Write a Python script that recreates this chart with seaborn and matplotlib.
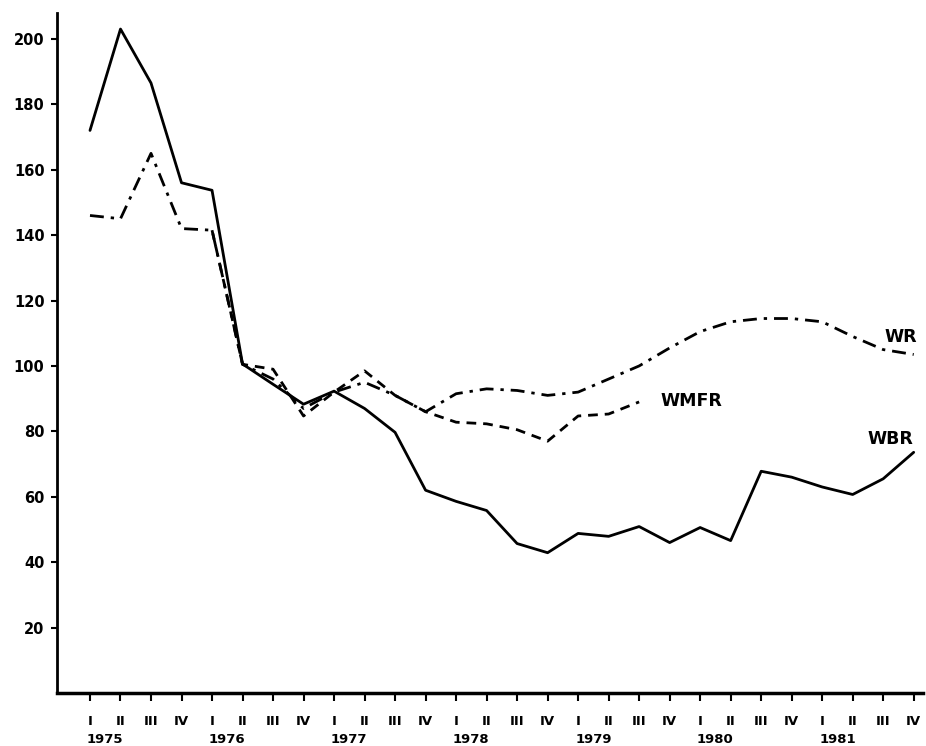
import numpy as np
import pandas as pd
import matplotlib
matplotlib.use("Agg")
import matplotlib.pyplot as plt
import seaborn as sns

# Quarterly index values, 1975 I - 1981 IV
years = ["1975", "1976", "1977", "1978", "1979", "1980", "1981"]
quarters = ["I", "II", "III", "IV"]

wr = [146, 145, 165, 142,
      141.5, 100.5, 96, 87,
      92, 95, 91, 86,
      91.5, 93, 92.5, 91,
      92, 96, 100, 105.5,
      110.5, 113.5, 114.5, 114.5,
      113.5, 109, 105, 103.5]

wmfr = [np.nan, np.nan, np.nan, np.nan,
        141.5, 100.5, 99, 84.7,
        92, 98.5, 91, 86,
        82.8, 82.3, 80.5, 77,
        84.7, 85.3, 89, np.nan,
        np.nan, np.nan, np.nan, np.nan,
        np.nan, np.nan, np.nan, np.nan]

wbr = [172, 203, 186.5, 156,
       153.7, 100.6, 94.4, 88.3,
       92.3, 87, 79.7, 62,
       58.6, 55.8, 45.7, 42.9,
       48.8, 47.9, 50.9, 46,
       50.6, 46.6, 67.8, 66,
       63, 60.7, 65.5, 73.6]

series_names = ["WR", "WMFR", "WBR"]
y_ticks = [20, 40, 60, 80, 100, 120, 140, 160, 180, 200]

n = len(years) * len(quarters)
t = np.arange(n)
df = pd.concat([
    pd.DataFrame({"t": t, "value": vals, "series": name})
    for name, vals in zip(series_names, [wr, wmfr, wbr])
]).dropna()

sns.set_style("ticks")
plt.rcParams["font.family"] = ["DejaVu Sans"]
plt.rcParams["font.weight"] = "bold"
plt.rcParams["text.color"] = "black"

fig = plt.figure(figsize=(9.26, 7.46), dpi=100)
ax = fig.add_axes([0.0616, 0.071, 0.935, 0.912])

sns.lineplot(
    data=df, x="t", y="value", style="series", ax=ax,
    color="black", linewidth=2.0, legend=False,
    style_order=series_names,
    dashes={"WR": (5, 2.5, 1.2, 2.5), "WMFR": (3.5, 2.5), "WBR": ""},
)

ax.set_xlim(-1.08, 27.3)
ax.set_ylim(0, 208)
ax.set_xlabel("")
ax.set_ylabel("")

ax.set_yticks(y_ticks)
ax.set_yticklabels([str(v) for v in y_ticks], fontsize=10.5, fontweight="bold")

ax.set_xticks(t)
ax.set_xticklabels(quarters * len(years), fontsize=9.5, fontweight="bold")
ax.set_xticks(np.arange(len(years)) * 4 + 0.5, minor=True)
ax.set_xticklabels(years, minor=True, fontsize=9.5, fontweight="bold")

ax.tick_params(axis="y", which="major", direction="out", length=4, width=1.5, pad=5, colors="black")
ax.tick_params(axis="x", which="major", direction="out", length=6, width=1.5, pad=10, colors="black")
ax.tick_params(axis="x", which="minor", length=0, pad=29, colors="black")

sns.despine(ax=ax)
ax.spines["left"].set_linewidth(2.0)
ax.spines["bottom"].set_linewidth(2.5)
ax.spines["left"].set_color("black")
ax.spines["bottom"].set_color("black")

ax.text(27.1, 109, "WR", ha="right", va="center", fontsize=12.5, fontweight="bold", color="black")
ax.text(18.7, 89.3, "WMFR", ha="left", va="center", fontsize=12.5, fontweight="bold", color="black")
ax.text(27.0, 77.6, "WBR", ha="right", va="center", fontsize=12.5, fontweight="bold", color="black")

fig.savefig("out.png", dpi=100, facecolor="white")
